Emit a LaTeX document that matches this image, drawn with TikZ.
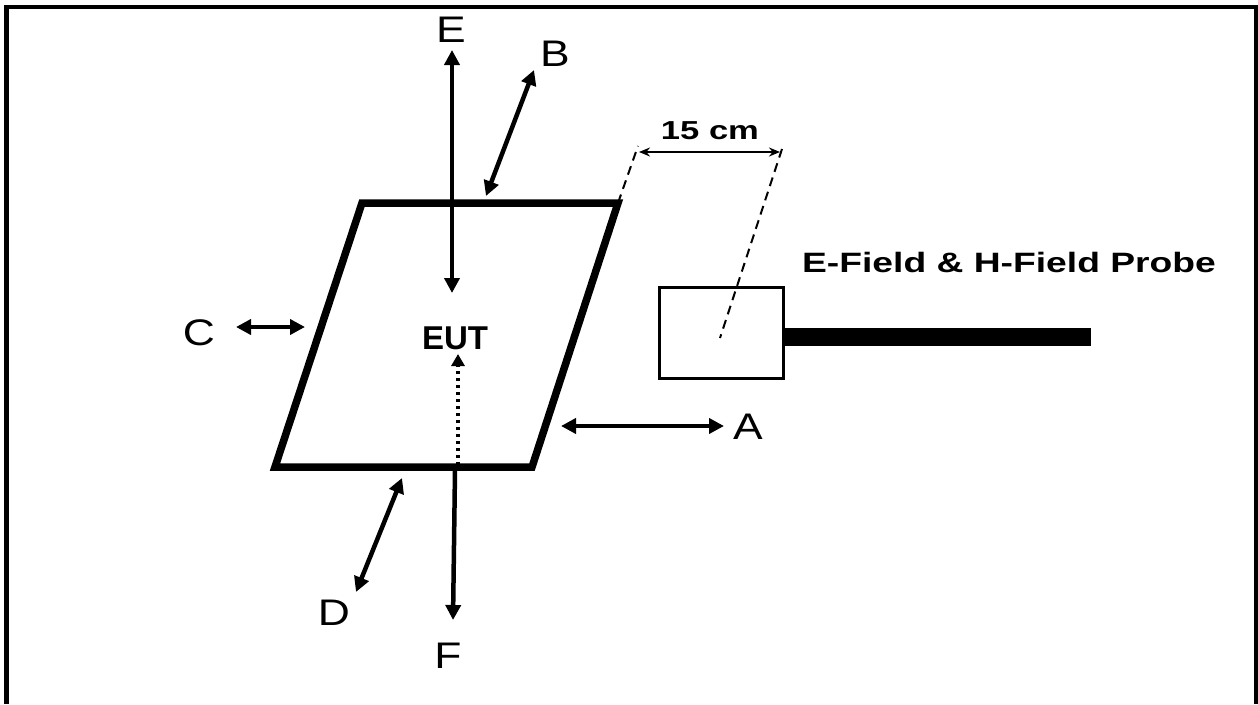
\documentclass[tikz,border=0pt]{standalone}
\usepackage{fontspec}
\setmainfont{Liberation Sans}
\newfontfamily\lblfont[FakeStretch=1.2]{Liberation Sans}
\newfontfamily\wbfont[FakeStretch=1.33]{Liberation Sans}
\usetikzlibrary{arrows.meta}
\begin{document}
\begin{tikzpicture}[x=1pt,y=-1pt,
  lbl/.style={inner sep=0pt,font=\lblfont\fontsize{37}{40}\selectfont},
  arr/.style={line width=4.5pt,{Triangle[length=15pt,width=15pt]}-{Triangle[length=15pt,width=15pt]}},
  onearr/.style={line width=4.5pt,-{Triangle[length=15pt,width=15pt]}},
  dim/.style={line width=2pt,{Stealth[length=11pt,width=9pt]}-{Stealth[length=11pt,width=9pt]}},
  dsh/.style={line width=2pt,dash pattern=on 9pt off 6pt},
  eut/.style={line width=7.5pt,line join=miter},
]
\useasboundingbox (0,0) rectangle (1258,704);
\fill[white] (0,0) rectangle (1258,704);
% frame
\draw[line width=4.5pt] (6.5,704) -- (6.5,7) -- (1256.5,7) -- (1256.5,704);

% EUT parallelogram
\coordinate (tl) at (362,203);
\coordinate (tr) at (618,203);
\coordinate (br) at (532,467);
\coordinate (bl) at (275,467);
\draw[eut] (tl) -- (tr) -- (br) -- (bl) -- cycle;
\node[inner sep=0pt,font=\bfseries\fontsize{33}{36}\selectfont] (eut) at (455,338) {EUT};

% E arrow
\coordinate (e1) at (452,50);
\coordinate (e2) at (452,293);
\draw[arr] (e1) -- (e2);
\node[lbl] (E) at (451,30) {E};

% B arrow
\coordinate (b1) at (534,70);
\coordinate (b2) at (486,196);
\draw[arr] (b1) -- (b2);
\node[lbl] (B) at (555,54) {B};

% C arrow
\coordinate (c1) at (236,327);
\coordinate (c2) at (305,327);
\draw[arr] (c1) -- (c2);
\node[lbl] (C) at (199,333) {C};

% A arrow
\coordinate (a1) at (561,426);
\coordinate (a2) at (724,426);
\draw[arr] (a1) -- (a2);
\node[lbl] (A) at (748,427) {A};

% D arrow
\coordinate (d1) at (402,478);
\coordinate (d2) at (356,592);
\draw[arr] (d1) -- (d2);
\node[lbl] (D) at (334,613) {D};

% F arrow
\coordinate (f1) at (455,470);
\coordinate (f2) at (453,620);
\draw[onearr] (f1) -- (f2);
\node[lbl] (F) at (448,656) {F};

% dotted arrow up to EUT
\coordinate (g1) at (458,465);
\coordinate (g2) at (458,354);
\draw[line width=4.5pt,dash pattern=on 3.5pt off 3.5pt,-{Triangle[length=12pt,width=13pt]}] (g1) -- (g2);

% probe
\node[draw,line width=3pt,minimum width=124pt,minimum height=91pt,inner sep=0pt] (probe) at (721,332.5) {};
\fill (783,328) rectangle (1091,346);
\node[inner sep=0pt,font=\wbfont\bfseries\fontsize{28}{30}\selectfont] (ptxt) at (1009,262) {E-Field \& H-Field Probe};

% 15 cm dimension
\coordinate (m1) at (638,146);
\coordinate (m2) at (782,149);
\coordinate (pc) at (720,338);
\draw[dsh] (tr) -- (m1);
\draw[dsh] (m2) -- (pc);
\coordinate (h1) at (639,152);
\coordinate (h2) at (780,152);
\draw[dim] (h1) -- (h2);
\node[inner sep=0pt,font=\wbfont\bfseries\fontsize{26}{28}\selectfont] (dimtxt) at (710,131) {15 cm};
\end{tikzpicture}
\end{document}
